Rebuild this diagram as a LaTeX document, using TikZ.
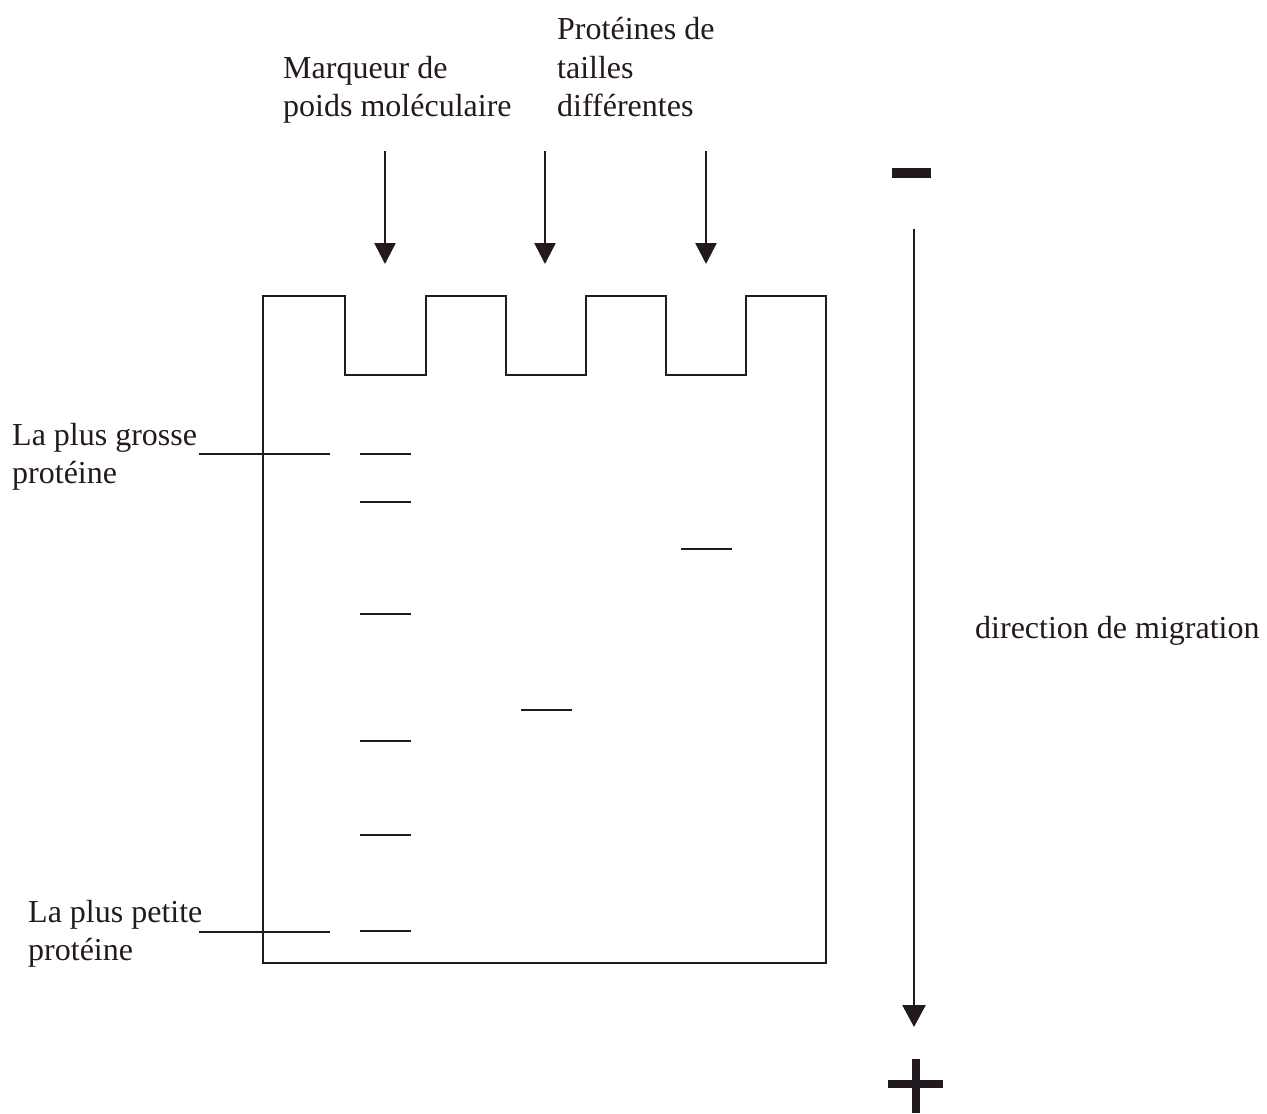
\documentclass[tikz,border=0pt]{standalone}
\usepackage{fontspec}
\setmainfont{Liberation Serif}
\usetikzlibrary{arrows.meta}
\definecolor{ink}{RGB}{35,25,32}
\begin{document}
\begin{tikzpicture}[x=1pt,y=-1pt,
  txt/.style={anchor=base west,inner sep=0pt,font=\fontsize{32}{38}\selectfont,text=ink},
  gelline/.style={draw=ink,line width=2.6pt},
  band/.style={draw=ink,line width=2.6pt},
  loadarrow/.style={draw=ink,line width=2.6pt,-{Triangle[width=21pt,length=21pt]}},
  sign/.style={fill=ink,draw=none}]
\path[use as bounding box] (0,0) rectangle (1267,1114);
% texts
\node[txt] (m1) at (283,78) {Marqueur de};
\node[txt] (m2) at (283,116) {poids moléculaire};
\node[txt] (p1) at (557,39) {Protéines de};
\node[txt] (p2) at (557,78) {tailles};
\node[txt] (p3) at (557,116) {différentes};
\node[txt] (g1) at (12,445) {La plus grosse};
\node[txt] (g2) at (12,483) {protéine};
\node[txt] (s1) at (28,922) {La plus petite};
\node[txt] (s2) at (28,960) {protéine};
\node[txt] (dir) at (975,638) {direction de migration};
% loading arrows
\coordinate (a1s) at (385,151); \coordinate (a1e) at (385,264);
\coordinate (a2s) at (545,151); \coordinate (a2e) at (545,264);
\coordinate (a3s) at (706,151); \coordinate (a3e) at (706,264);
\draw[loadarrow] (a1s) -- (a1e);
\draw[loadarrow] (a2s) -- (a2e);
\draw[loadarrow] (a3s) -- (a3e);
% gel outline
\draw[gelline,line join=miter] (263,963) -- (263,296) -- (345,296) -- (345,375) -- (426,375) -- (426,296)
  -- (506,296) -- (506,375) -- (586,375) -- (586,296) -- (666,296) -- (666,375)
  -- (746,375) -- (746,296) -- (826,296) -- (826,963) -- cycle;
% marker bands
\foreach \yy in {454,502,614,741,835,931} \draw[band] (360,\yy) -- (411,\yy);
% sample bands
\draw[band] (521,710) -- (572,710);
\draw[band] (681,549) -- (732,549);
% label lines
\coordinate (lg1) at (199,454); \coordinate (lg2) at (330,454);
\coordinate (ls1) at (199,932); \coordinate (ls2) at (330,932);
\draw[band] (lg1) -- (lg2);
\draw[band] (ls1) -- (ls2);
% migration arrow
\coordinate (ms) at (914,229); \coordinate (me) at (914,1027);
\draw[draw=ink,line width=2.6pt,-{Triangle[width=23pt,length=22pt]}] (ms) -- (me);
% minus and plus
\fill[sign] (892,168) rectangle (931,178);
\fill[sign] (888,1080) rectangle (943,1088);
\fill[sign] (912,1059) rectangle (920,1113);
\end{tikzpicture}
\end{document}
